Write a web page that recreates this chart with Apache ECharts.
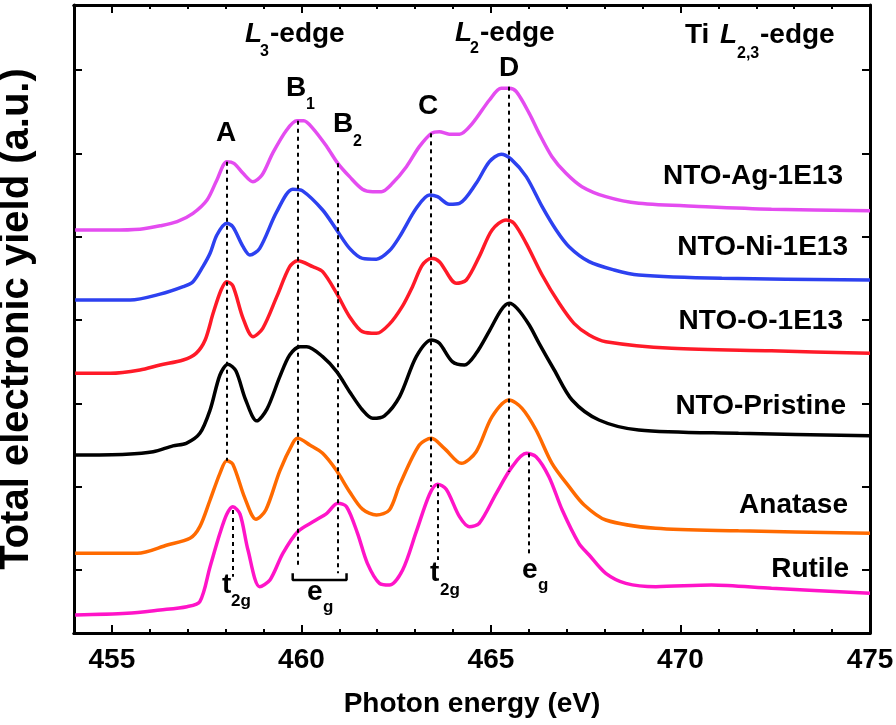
<!DOCTYPE html>
<html>
<head>
<meta charset="utf-8">
<script src="https://cdn.jsdelivr.net/npm/echarts@6/dist/echarts.min.js"></script>
<style>
  html, body { margin: 0; padding: 0; background: #fff; }
  #chart { width: 896px; height: 725px; }
</style>
</head>
<body>
<div id="chart"></div>
<script>
// photon energy (eV) vs offset total electronic yield (a.u.)
const xMin = 454
const xMax = 475
const yMin = -0.756
const yMax = 6.78

const sampleNames = ['NTO-Ag-1E13', 'NTO-Ni-1E13', 'NTO-O-1E13', 'NTO-Pristine', 'Anatase', 'Rutile']

const agData = [
  [454.03, 4.08], [454.96, 4.08], [455.74, 4.09], [456.27, 4.13], [456.72, 4.18], [457.14, 4.28],
  [457.51, 4.44], [457.77, 4.68], [458.03, 4.90], [458.22, 4.88], [458.46, 4.76], [458.72, 4.66],
  [458.96, 4.74], [459.24, 5.00], [459.61, 5.28], [459.88, 5.39], [460.06, 5.39], [460.30, 5.30],
  [460.67, 5.08], [460.96, 4.88], [461.27, 4.72], [461.61, 4.57], [461.88, 4.54], [462.11, 4.54],
  [462.40, 4.64], [462.77, 4.84], [463.11, 5.08], [463.43, 5.24], [463.64, 5.26], [463.90, 5.23],
  [464.17, 5.23], [464.51, 5.36], [464.96, 5.64], [465.27, 5.78], [465.48, 5.78], [465.67, 5.74],
  [466.01, 5.48], [466.27, 5.24], [466.61, 4.96], [466.98, 4.76], [467.40, 4.60], [468.03, 4.48],
  [468.90, 4.40], [470.67, 4.36], [472.40, 4.33], [475.00, 4.31]
]
const niData = [
  [454.03, 3.24], [455.48, 3.24], [456.27, 3.31], [456.88, 3.40], [457.14, 3.46], [457.40, 3.64],
  [457.59, 3.80], [457.77, 4.02], [458.03, 4.16], [458.19, 4.12], [458.46, 3.88], [458.64, 3.78],
  [458.90, 3.86], [459.35, 4.30], [459.77, 4.57], [460.03, 4.55], [460.56, 4.32], [460.93, 4.08],
  [461.27, 3.86], [461.61, 3.74], [461.98, 3.73], [462.32, 3.83], [462.59, 4.00], [463.03, 4.34],
  [463.38, 4.50], [463.59, 4.48], [463.90, 4.39], [464.17, 4.40], [464.61, 4.64], [464.96, 4.90],
  [465.27, 4.99], [465.53, 4.93], [465.93, 4.72], [466.35, 4.36], [466.72, 4.08], [467.06, 3.88],
  [467.59, 3.70], [468.25, 3.60], [468.90, 3.54], [471.09, 3.50], [475.00, 3.48]
]
const oData = [
  [454.03, 2.36], [454.96, 2.36], [455.74, 2.40], [456.27, 2.46], [456.88, 2.52], [457.22, 2.60],
  [457.46, 2.76], [457.67, 3.08], [457.88, 3.36], [458.03, 3.46], [458.19, 3.41], [458.46, 3.02],
  [458.72, 2.80], [458.98, 2.90], [459.35, 3.28], [459.69, 3.64], [459.90, 3.71], [460.30, 3.64],
  [460.56, 3.58], [460.93, 3.32], [461.27, 3.04], [461.61, 2.86], [461.98, 2.84], [462.32, 2.95],
  [462.67, 3.17], [462.93, 3.40], [463.19, 3.66], [463.43, 3.74], [463.64, 3.70], [464.09, 3.44],
  [464.35, 3.48], [464.69, 3.76], [465.03, 4.08], [465.40, 4.20], [465.61, 4.16], [465.93, 3.92],
  [466.35, 3.54], [466.80, 3.20], [467.19, 2.96], [467.59, 2.82], [468.03, 2.74], [469.77, 2.66],
  [472.40, 2.63], [475.00, 2.60]
]
const pristineData = [
  [454.03, 1.38], [455.38, 1.39], [456.09, 1.42], [456.61, 1.49], [456.96, 1.52], [457.32, 1.64],
  [457.59, 1.92], [457.85, 2.34], [458.06, 2.47], [458.27, 2.39], [458.53, 2.04], [458.82, 1.79],
  [459.09, 1.93], [459.43, 2.32], [459.69, 2.58], [459.96, 2.68], [460.14, 2.68], [460.56, 2.56],
  [460.93, 2.38], [461.27, 2.14], [461.61, 1.92], [461.88, 1.82], [462.19, 1.85], [462.59, 2.08],
  [463.03, 2.56], [463.43, 2.76], [463.64, 2.72], [463.98, 2.50], [464.30, 2.46], [464.61, 2.60],
  [464.96, 2.87], [465.27, 3.12], [465.48, 3.20], [465.69, 3.14], [466.01, 2.94], [466.27, 2.72],
  [466.67, 2.40], [467.14, 2.04], [467.85, 1.80], [468.90, 1.68], [471.53, 1.64], [475.00, 1.61]
]
const anataseData = [
  [454.03, 0.20], [455.67, 0.20], [456.46, 0.30], [457.06, 0.38], [457.32, 0.52], [457.59, 0.84],
  [457.85, 1.16], [458.03, 1.31], [458.19, 1.27], [458.51, 0.86], [458.80, 0.61], [459.06, 0.72],
  [459.43, 1.19], [459.77, 1.52], [459.90, 1.58], [460.22, 1.50], [460.56, 1.40], [460.93, 1.19],
  [461.27, 0.94], [461.61, 0.73], [461.98, 0.66], [462.32, 0.72], [462.59, 1.02], [463.11, 1.50],
  [463.43, 1.58], [463.77, 1.46], [464.22, 1.28], [464.61, 1.42], [465.03, 1.84], [465.48, 2.04],
  [465.82, 1.94], [466.19, 1.68], [466.61, 1.28], [467.06, 1.00], [467.46, 0.78], [468.03, 0.60],
  [469.35, 0.50], [471.53, 0.47], [475.00, 0.44]
]
const rutileData = [
  [454.03, -0.54], [455.40, -0.52], [456.27, -0.48], [456.98, -0.44], [457.32, -0.38], [457.59, 0.04],
  [457.85, 0.44], [458.03, 0.67], [458.19, 0.76], [458.38, 0.67], [458.59, 0.24], [458.90, -0.20],
  [459.17, -0.12], [459.51, 0.20], [459.90, 0.46], [460.35, 0.59], [460.67, 0.68], [460.96, 0.80],
  [461.19, 0.76], [461.48, 0.44], [461.74, 0.08], [462.06, -0.16], [462.32, -0.18], [462.67, 0.00],
  [463.03, 0.46], [463.38, 0.91], [463.59, 1.03], [463.82, 0.97], [464.17, 0.64], [464.43, 0.52],
  [464.69, 0.56], [465.14, 0.92], [465.56, 1.24], [465.93, 1.40], [466.19, 1.36], [466.53, 1.12],
  [466.88, 0.72], [467.32, 0.32], [467.59, 0.18], [468.03, -0.04], [468.56, -0.16], [469.35, -0.20],
  [470.82, -0.18], [472.40, -0.22], [475.00, -0.28]
]

// dotted guide lines: energy, top, bottom
const guideLines = [
  [458.03, 4.90, 1.31],
  [458.19, 0.72, -0.08],
  [459.91, 5.39, 0.04],
  [460.96, 4.88, -0.04],
  [463.42, 5.24, 1.00],
  [463.59, 1.03, 0.12],
  [465.48, 5.80, 1.18],
  [466.01, 1.40, 0.18]
]
// e_g bracket under B1..B2
const bracketData = [[459.77, -0.04], [459.77, -0.12], [461.19, -0.12], [461.19, -0.04]]

const colors = ['#e44cf0', '#2d41f0', '#ff1a28', '#000000', '#ff6a00', '#ff14c8']
const FONT = '"Liberation Sans", Arial, sans-serif'

const chart = echarts.init(document.getElementById('chart'))

function curve(name, data, color) {
  return {
    name: name,
    type: 'line',
    data: data,
    smooth: 0.3,
    symbol: 'none',
    showSymbol: false,
    lineStyle: { color: color, width: 3.5 },
    itemStyle: { color: color },
    xAxisIndex: 0,
    yAxisIndex: 0,
    silent: true,
    z: 3
  }
}

function xAxisOf(position, majorOnly, showLabel) {
  const ax = {
    type: 'value',
    position: position,
    min: xMin,
    max: xMax,
    axisLine: { show: true, onZero: false, lineStyle: { color: '#000', width: 3 } },
    axisTick: { show: true, inside: true, length: majorOnly ? 8 : 4, lineStyle: { color: '#000', width: 2 } },
    splitLine: { show: false },
    axisLabel: { show: false }
  }
  if (majorOnly) {
    ax.minInterval = 5
    ax.maxInterval = 5
  } else {
    ax.interval = 1
  }
  if (showLabel) {
    ax.axisLabel = {
      show: true,
      margin: 13,
      color: '#000',
      fontFamily: FONT,
      fontWeight: 'bold',
      fontSize: 28,
      formatter: function (v) { return v % 5 === 0 ? String(v) : '' }
    }
    ax.name = 'Photon energy (eV)'
    ax.nameLocation = 'middle'
    ax.nameGap = 57
    ax.nameTextStyle = { color: '#000', fontFamily: FONT, fontWeight: 'bold', fontSize: 28 }
  }
  return ax
}

function yAxisOf(position, withName) {
  const ax = {
    type: 'value',
    position: position,
    min: yMin,
    max: yMax,
    minInterval: 1,
    maxInterval: 1,
    axisLine: { show: true, onZero: false, lineStyle: { color: '#000', width: 3 } },
    axisTick: { show: true, inside: true, length: 8, lineStyle: { color: '#000', width: 2 } },
    splitLine: { show: false },
    axisLabel: { show: false }
  }
  if (withName) {
    ax.name = 'Total electronic yield (a.u.)'
    ax.nameLocation = 'middle'
    ax.nameGap = 37
    ax.nameTextStyle = { color: '#000', fontFamily: FONT, fontWeight: 'bold', fontSize: 40 }
  }
  return ax
}

// text layout: [text, x, y, size, italic, align]
const textLayout = [
  ['L', 245, 34, 28, true], ['3', 260, 52, 16], ['-edge', 270, 34, 28],
  ['L', 455, 33, 28, true], ['2', 470, 49, 16], ['-edge', 480, 33, 28],
  ['Ti', 685, 35, 28], ['L', 720, 35, 28, true], ['2,3', 737, 54, 16], ['-edge', 760, 35, 28],
  ['A', 226, 133, 28, false, 'center'],
  ['B', 286, 88, 28], ['1', 306, 105, 16],
  ['B', 333, 124, 28], ['2', 353, 142, 16],
  ['C', 428, 106, 28, false, 'center'],
  ['D', 509, 68, 28, false, 'center'],
  ['t', 222, 585, 28], ['2g', 231, 601, 17],
  ['e', 307, 592, 28], ['g', 323, 607, 17],
  ['t', 430, 573, 28], ['2g', 440, 590, 17],
  ['e', 522, 570, 28], ['g', 538, 585, 17]
]
const nameLayout = [[843, 176], [848, 247], [843, 321], [846, 406], [848, 505], [849, 569]]

const graphics = textLayout.map(function (t) {
  return {
    type: 'text',
    x: t[1],
    y: t[2],
    silent: true,
    z: 10,
    style: {
      text: t[0],
      font: (t[4] ? 'italic ' : '') + 'bold ' + t[3] + 'px ' + FONT,
      fill: '#000',
      align: t[5] || 'left',
      verticalAlign: 'middle'
    }
  }
}).concat(sampleNames.map(function (n, i) {
  return {
    type: 'text',
    x: nameLayout[i][0],
    y: nameLayout[i][1],
    silent: true,
    z: 10,
    style: {
      text: n,
      font: 'bold 28px ' + FONT,
      fill: '#000',
      align: 'right',
      verticalAlign: 'middle'
    }
  }
}))

const series = [
  curve(sampleNames[0], agData, colors[0]),
  curve(sampleNames[1], niData, colors[1]),
  curve(sampleNames[2], oData, colors[2]),
  curve(sampleNames[3], pristineData, colors[3]),
  curve(sampleNames[4], anataseData, colors[4]),
  curve(sampleNames[5], rutileData, colors[5]),
  {
    name: 'bracket',
    type: 'line',
    data: bracketData,
    symbol: 'none',
    lineStyle: { color: '#000', width: 2.5 },
    silent: true,
    z: 4
  },
  {
    name: 'guides',
    type: 'line',
    data: [],
    silent: true,
    markLine: {
      silent: true,
      symbol: ['none', 'none'],
      label: { show: false },
      lineStyle: { color: '#000', width: 2, type: [4, 4] },
      data: guideLines.map(function (g) {
        return [{ coord: [g[0], g[1]] }, { coord: [g[0], g[2]] }]
      })
    },
    z: 2
  }
]

chart.setOption({
  animation: false,
  backgroundColor: '#fff',
  grid: { left: 74, right: 26, top: 5, bottom: 92, containLabel: false, outerBoundsMode: 'none' },
  xAxis: [
    xAxisOf('bottom', false, false),
    xAxisOf('bottom', true, true),
    xAxisOf('top', false, false),
    xAxisOf('top', true, false)
  ],
  yAxis: [yAxisOf('left', true), yAxisOf('right', false)],
  series: series,
  graphic: graphics
})
</script>
</body>
</html>
